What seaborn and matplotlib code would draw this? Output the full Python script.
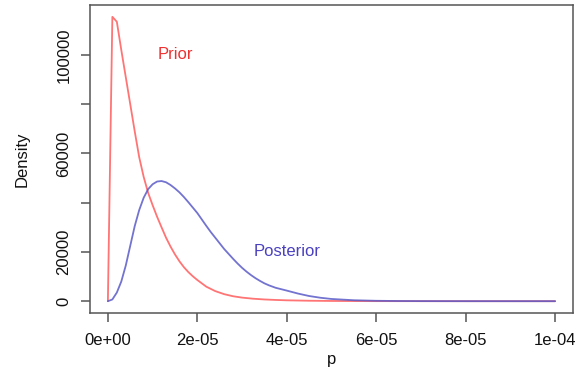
import numpy as np
import pandas as pd
import matplotlib
matplotlib.use("Agg")
import matplotlib.pyplot as plt
import seaborn as sns

# values
prior_p = [0, 1e-6, 2e-6, 3e-6, 4e-6, 5e-6, 6e-6, 7e-6, 8e-6, 9e-6, 1e-5,
           1.1e-5, 1.2e-5, 1.3e-5, 1.4e-5, 1.5e-5, 1.6e-5, 1.7e-5, 1.8e-5,
           1.9e-5, 2e-5, 2.2e-5, 2.4e-5, 2.6e-5, 2.8e-5, 3e-5, 3.25e-5,
           3.5e-5, 3.75e-5, 4e-5, 4.5e-5, 5e-5, 5.5e-5, 6e-5, 7e-5, 8e-5, 1e-4]
prior_d = [0, 115500, 113500, 102000, 91000, 80000, 69000, 58500, 50500,
           44000, 39000, 34300, 30000, 25800, 22200, 19000, 16200, 13800,
           11800, 10100, 8600, 5900, 4100, 2850, 2000, 1450, 1000, 700, 500,
           350, 180, 90, 45, 20, 5, 0, 0]

post_p = [0, 1e-6, 2e-6, 3e-6, 4e-6, 5e-6, 6e-6, 7e-6, 8e-6, 9e-6, 1e-5,
          1.1e-5, 1.2e-5, 1.3e-5, 1.4e-5, 1.5e-5, 1.6e-5, 1.7e-5, 1.8e-5,
          1.9e-5, 2e-5, 2.1e-5, 2.2e-5, 2.3e-5, 2.4e-5, 2.5e-5, 2.6e-5,
          2.7e-5, 2.8e-5, 2.9e-5, 3e-5, 3.1e-5, 3.2e-5, 3.3e-5, 3.4e-5,
          3.5e-5, 3.6e-5, 3.75e-5, 4e-5, 4.25e-5, 4.5e-5, 4.75e-5, 5e-5,
          5.5e-5, 6e-5, 6.5e-5, 7e-5, 8e-5, 9e-5, 1e-4]
post_d = [0, 700, 3500, 8000, 14500, 22500, 30500, 37000, 42000, 45500,
          47500, 48600, 48800, 48300, 47200, 45800, 44200, 42300, 40200,
          38000, 35800, 33200, 30600, 28100, 25800, 23500, 21200, 19200,
          17200, 15300, 13550, 12000, 10600, 9350, 8250, 7250, 6450, 5450,
          4300, 3100, 2100, 1400, 900, 380, 160, 70, 30, 5, 0, 0]

x_ticks = [0, 2e-5, 4e-5, 6e-5, 8e-5, 1e-4]
x_labels = ["0e+00", "2e-05", "4e-05", "6e-05", "8e-05", "1e-04"]
y_ticks = [0, 20000, 40000, 60000, 80000, 100000]
y_labels = ["0", "20000", "", "60000", "", "100000"]

sns.set_style("white")
plt.rcParams["font.family"] = ["Liberation Sans", "DejaVu Sans"]

fig = plt.figure(figsize=(5.82, 3.77), dpi=100)
ax = fig.add_axes([90 / 582, 1 - 313 / 377, 483 / 582, 308 / 377])

prior = pd.DataFrame({"p": prior_p, "Density": prior_d})
post = pd.DataFrame({"p": post_p, "Density": post_d})

sns.lineplot(data=prior, x="p", y="Density", ax=ax, color="#ff5c5c",
             linewidth=1.3, alpha=0.85)
sns.lineplot(data=post, x="p", y="Density", ax=ax, color="#5a5ac8",
             linewidth=1.3, alpha=0.85)

ax.text(1.5e-5, 100000, "Prior", color="#ee3030", fontsize=12,
        ha="center", va="center")
ax.text(4e-5, 20000, "Posterior", color="#4a40c0", fontsize=12,
        ha="center", va="center")

ax.set_xlim(-4e-6, 1.04e-4)
ax.set_ylim(-4800, 120300)
ax.set_xticks(x_ticks)
ax.set_xticklabels(x_labels)
ax.set_yticks(y_ticks)
ax.set_yticklabels(y_labels, rotation=90, va="center")
ax.tick_params(axis="both", direction="out", length=6.5, width=1.1,
               color="#555555", labelsize=12, labelcolor="#111111",
               bottom=True, left=True)
ax.tick_params(axis="x", pad=8)
ax.tick_params(axis="y", pad=7)
for s in ax.spines.values():
    s.set_color("#555555")
    s.set_linewidth(1.1)

ax.set_xlabel("p", fontsize=12, color="#111111", labelpad=3)
ax.set_ylabel("Density", fontsize=12, color="#111111", labelpad=19)

fig.savefig("out.png", dpi=100)
